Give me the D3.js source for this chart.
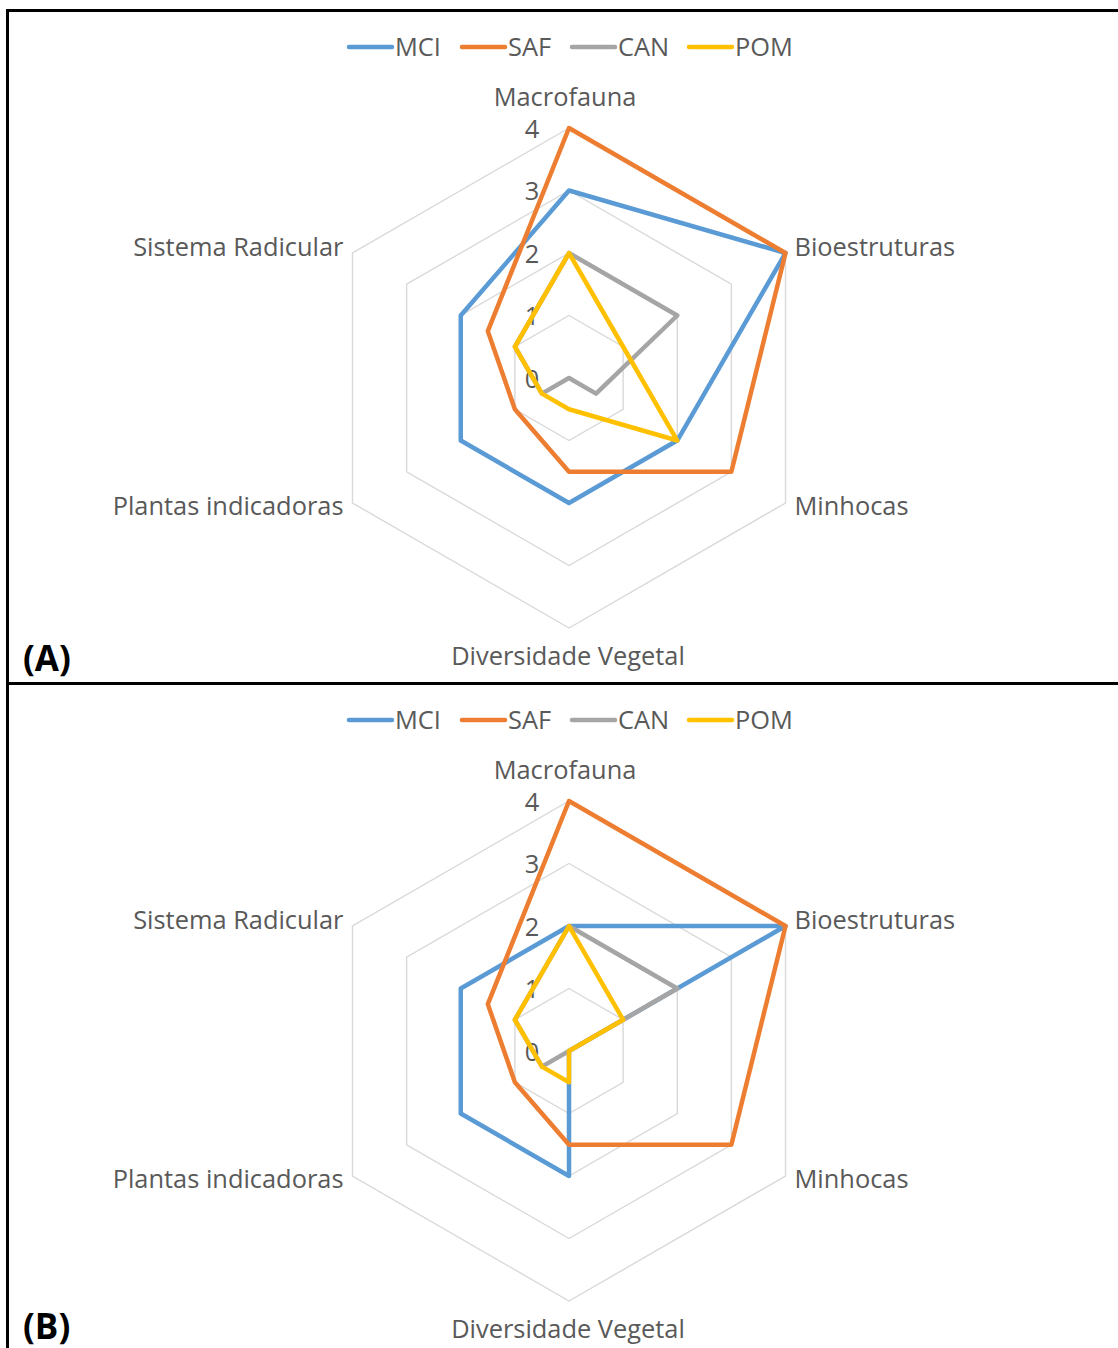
<!DOCTYPE html>
<html>
<head>
<meta charset="utf-8">
<script src="https://cdn.jsdelivr.net/npm/d3@7"></script>
<style>
  html, body { margin: 0; padding: 0; background: #fff; }
  svg { display: block; }
  text { font-family: "Open Sans", "Noto Sans", sans-serif; }
</style>
</head>
<body>
<svg id="chart" width="1118" height="1348"></svg>
<script>
// Soil-quality indicators scored 0–4 for four land uses, two assessments.
const axes = ["Macrofauna", "Bioestruturas", "Minhocas", "Diversidade Vegetal", "Plantas indicadoras", "Sistema Radicular"];
const seriesNames = ["MCI", "SAF", "CAN", "POM"];
const seriesColors = ["#5B9BD5", "#ED7D31", "#A5A5A5", "#FFC000"];
const tickValues = [0, 1, 2, 3, 4];
const panelTags = ["(A)", "(B)"];

// Panel A
const mciA = [3, 4, 2, 2, 2, 2];
const safA = [4, 4, 3, 1.5, 1, 1.5];
const canA = [2, 2, 0.5, 0, 0.5, 1];
const pomA = [2, 1, 2, 0.5, 0.5, 1];

// Panel B
const mciB = [2, 4, 0, 2, 2, 2];
const safB = [4, 4, 3, 1.5, 1, 1.5];
const canB = [2, 2, 0, 0, 0.5, 1];
const pomB = [2, 1, 0, 0.5, 0.5, 1];

const panels = [
  { tag: panelTags[0], top: 10, tagY: 661, series: [mciA, safA, canA, pomA] },
  { tag: panelTags[1], top: 683, tagY: 656, series: [mciB, safB, canB, pomB] }
];

const svg = d3.select("#chart");
const textColor = "#595959";
const gridColor = "#D9D9D9";
const fontSize = 25.4;

const r = d3.scaleLinear().domain([0, 4]).range([0, 250]);
const angle = d3.scaleLinear().domain([0, axes.length]).range([0, 2 * Math.PI]);

const radial = d3.lineRadial()
  .angle((d, i) => angle(i))
  .radius(d => r(d))
  .curve(d3.curveLinearClosed);

// label placement around the outer ring
const labelLayout = [
  { dx: -4, dy: -31, anchor: "middle" },
  { dx: 9, dy: -6, anchor: "start" },
  { dx: 9, dy: 3, anchor: "start" },
  { dx: -1, dy: 28, anchor: "middle" },
  { dx: -9, dy: 3, anchor: "end" },
  { dx: -9, dy: -6, anchor: "end" }
];

panels.forEach(p => {
  const g = svg.append("g");
  const cx = 569, cy = p.top + 368;

  // legend
  const legend = g.append("g").attr("transform", `translate(0,${p.top + 37})`);
  const legendX = [349, 462, 572, 689];
  seriesNames.forEach((name, i) => {
    legend.append("line")
      .attr("x1", legendX[i]).attr("x2", legendX[i] + 43)
      .attr("y1", 0).attr("y2", 0)
      .attr("stroke", seriesColors[i]).attr("stroke-width", 4.5)
      .attr("stroke-linecap", "round");
    legend.append("text")
      .attr("x", legendX[i] + 46).attr("y", 0)
      .attr("dy", "0.35em")
      .attr("font-size", fontSize)
      .attr("fill", textColor)
      .text(name);
  });

  const plot = g.append("g").attr("transform", `translate(${cx},${cy})`);

  // hexagonal grid rings
  tickValues.filter(v => v > 0).forEach(v => {
    plot.append("path")
      .attr("d", radial(axes.map(() => v)))
      .attr("fill", "none")
      .attr("stroke", gridColor)
      .attr("stroke-width", 1.4);
  });

  // value labels along the vertical axis
  tickValues.forEach(v => {
    plot.append("text")
      .attr("x", -37).attr("y", -r(v) + 1)
      .attr("dy", "0.35em")
      .attr("text-anchor", "middle")
      .attr("font-size", fontSize)
      .attr("fill", textColor)
      .text(v);
  });

  // axis category labels
  axes.forEach((name, i) => {
    const a = angle(i);
    const x = Math.sin(a) * r(4);
    const y = -Math.cos(a) * r(4);
    const L = labelLayout[i];
    plot.append("text")
      .attr("x", x + L.dx).attr("y", y + L.dy)
      .attr("dy", "0.35em")
      .attr("text-anchor", L.anchor)
      .attr("font-size", fontSize)
      .attr("fill", textColor)
      .text(name);
  });

  // series polygons, drawn in legend order
  p.series.forEach((vals, i) => {
    plot.append("path")
      .attr("d", radial(vals))
      .attr("fill", "none")
      .attr("stroke", seriesColors[i])
      .attr("stroke-width", 4.5)
      .attr("stroke-linejoin", "round");
  });

  // panel tag
  g.append("text")
    .attr("x", 23).attr("y", p.top + p.tagY)
    .attr("font-family", "Lato, 'Open Sans', sans-serif")
    .attr("font-weight", "bold")
    .attr("font-size", 35)
    .attr("fill", "#000")
    .text(p.tag);
});

// panel frames
svg.append("path")
  .attr("d", "M7.5,1348 V10.5 H1118 M7.5,683.5 H1118")
  .attr("fill", "none")
  .attr("stroke", "#000")
  .attr("stroke-width", 3);
</script>
</body>
</html>
